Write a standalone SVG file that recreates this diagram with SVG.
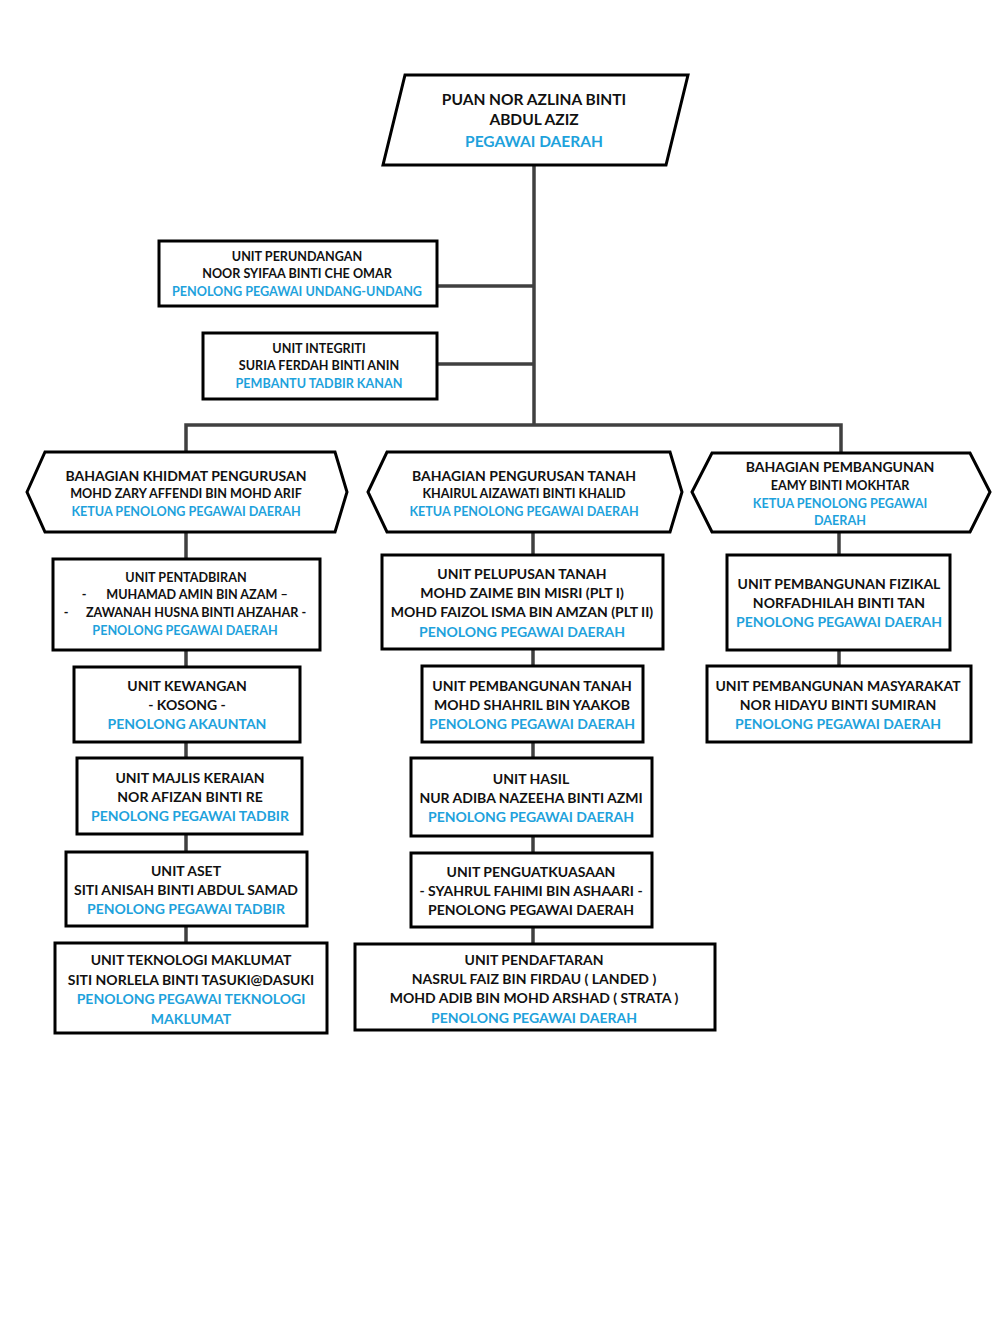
<svg xmlns="http://www.w3.org/2000/svg" width="1008" height="1344" viewBox="0 0 1008 1344">
<style>
.box{fill:#fff;stroke:#000;stroke-width:3}
.c{fill:none;stroke:#404040;stroke-width:3.5}
text{font-family:Lato,"Open Sans","Liberation Sans",sans-serif;font-weight:bold;text-anchor:middle;dominant-baseline:central;fill:#111}
.b{fill:#1ea2dc}
.s{font-size:12.6px}
.m{font-size:14px}
.l{font-size:15.5px}
</style>
<rect width="1008" height="1344" fill="#fff"/>
<g id="connectors">
<path class="c" d="M534,165V425"/>
<path class="c" d="M437,286H534"/>
<path class="c" d="M437,364H534"/>
<path class="c" d="M186,452V425H841V452"/>
<path class="c" d="M186,532V943"/>
<path class="c" d="M533,532V944"/>
<path class="c" d="M839,532V666"/>
</g>
<g id="head">
<polygon class="box" points="405,75 688,75 666,165 383,165"/>
<text class="l" x="534" y="99">PUAN NOR AZLINA BINTI</text>
<text class="l" x="534" y="119">ABDUL AZIZ</text>
<text class="l b" x="534" y="141">PEGAWAI DAERAH</text>
</g>
<g id="perundangan">
<rect class="box" x="159" y="241" width="278" height="65"/>
<text class="s" x="297" y="256">UNIT PERUNDANGAN</text>
<text class="s" x="297" y="273">NOOR SYIFAA BINTI CHE OMAR</text>
<text class="s b" x="297" y="291">PENOLONG PEGAWAI UNDANG-UNDANG</text>
</g>
<g id="integriti">
<rect class="box" x="203" y="333" width="234" height="66"/>
<text class="s" x="319" y="348">UNIT INTEGRITI</text>
<text class="s" x="319" y="365">SURIA FERDAH BINTI ANIN</text>
<text class="s b" x="319" y="383">PEMBANTU TADBIR KANAN</text>
</g>
<g id="bkp">
<polygon class="box" points="27,492 45,452 335,452 347,492 335,532 45,532"/>
<text class="m" x="186" y="475">BAHAGIAN KHIDMAT PENGURUSAN</text>
<text class="s" x="186" y="493">MOHD ZARY AFFENDI BIN MOHD ARIF</text>
<text class="s b" x="186" y="511">KETUA PENOLONG PEGAWAI DAERAH</text>
</g>
<g id="bpt">
<polygon class="box" points="368,492 387,452 670,452 682,492 670,532 387,532"/>
<text class="m" x="524" y="475">BAHAGIAN PENGURUSAN TANAH</text>
<text class="s" x="524" y="493">KHAIRUL AIZAWATI BINTI  KHALID</text>
<text class="s b" x="524" y="511">KETUA PENOLONG PEGAWAI DAERAH</text>
</g>
<g id="bp">
<polygon class="box" points="692,492 712,453 970,453 990,492 970,532 712,532"/>
<text class="m" x="840" y="466">BAHAGIAN PEMBANGUNAN</text>
<text class="s" x="840" y="485">EAMY BINTI MOKHTAR</text>
<text class="s b" x="840" y="503">KETUA PENOLONG PEGAWAI</text>
<text class="s b" x="840" y="520">DAERAH</text>
</g>
<g id="pentadbiran">
<rect class="box" x="53" y="559" width="267" height="91"/>
<text class="s" x="186" y="577">UNIT PENTADBIRAN</text>
<text class="s" x="84" y="594">-</text>
<text class="s" x="197" y="594">MUHAMAD AMIN BIN AZAM –</text>
<text class="s" x="66" y="612">-</text>
<text class="s" x="196" y="612">ZAWANAH HUSNA BINTI AHZAHAR -</text>
<text class="s b" x="185" y="630">PENOLONG PEGAWAI DAERAH</text>
</g>
<g id="kewangan">
<rect class="box" x="74" y="667" width="226" height="75"/>
<text class="m" x="187" y="685">UNIT KEWANGAN</text>
<text class="m" x="187" y="704">- KOSONG -</text>
<text class="m b" x="187" y="723">PENOLONG AKAUNTAN</text>
</g>
<g id="majlis">
<rect class="box" x="77" y="758" width="225" height="76"/>
<text class="m" x="190" y="777">UNIT MAJLIS KERAIAN</text>
<text class="m" x="190" y="796">NOR AFIZAN BINTI RE</text>
<text class="m b" x="190" y="815">PENOLONG PEGAWAI TADBIR</text>
</g>
<g id="aset">
<rect class="box" x="66" y="852" width="241" height="74"/>
<text class="m" x="186" y="870">UNIT ASET</text>
<text class="m" x="186" y="889">SITI ANISAH BINTI ABDUL SAMAD</text>
<text class="m b" x="186" y="908">PENOLONG PEGAWAI TADBIR</text>
</g>
<g id="teknologi">
<rect class="box" x="55" y="943" width="272" height="90"/>
<text class="m" x="191" y="959">UNIT TEKNOLOGI MAKLUMAT</text>
<text class="m" x="191" y="979">SITI NORLELA BINTI TASUKI@DASUKI</text>
<text class="m b" x="191" y="998">PENOLONG PEGAWAI TEKNOLOGI</text>
<text class="m b" x="191" y="1018">MAKLUMAT</text>
</g>
<g id="pelupusan">
<rect class="box" x="382" y="555" width="281" height="94"/>
<text class="m" x="522" y="573">UNIT PELUPUSAN TANAH</text>
<text class="m" x="522" y="592">MOHD ZAIME BIN MISRI (PLT I)</text>
<text class="m" x="522" y="611">MOHD FAIZOL ISMA BIN AMZAN (PLT II)</text>
<text class="m b" x="522" y="631">PENOLONG PEGAWAI DAERAH</text>
</g>
<g id="pembtanah">
<rect class="box" x="422" y="666" width="221" height="76"/>
<text class="m" x="532" y="685">UNIT PEMBANGUNAN TANAH</text>
<text class="m" x="532" y="704">MOHD SHAHRIL BIN YAAKOB</text>
<text class="m b" x="532" y="723">PENOLONG PEGAWAI DAERAH</text>
</g>
<g id="hasil">
<rect class="box" x="411" y="758" width="241" height="78"/>
<text class="m" x="531" y="778">UNIT HASIL</text>
<text class="m" x="531" y="797">NUR ADIBA NAZEEHA BINTI AZMI</text>
<text class="m b" x="531" y="816">PENOLONG PEGAWAI DAERAH</text>
</g>
<g id="penguatkuasaan">
<rect class="box" x="411" y="853" width="241" height="74"/>
<text class="m" x="531" y="871">UNIT PENGUATKUASAAN</text>
<text class="m" x="531" y="890">- SYAHRUL FAHIMI  BIN ASHAARI -</text>
<text class="m" x="531" y="909">PENOLONG PEGAWAI DAERAH</text>
</g>
<g id="pendaftaran">
<rect class="box" x="355" y="944" width="360" height="86"/>
<text class="m" x="534" y="959">UNIT PENDAFTARAN</text>
<text class="m" x="534" y="978">NASRUL FAIZ BIN FIRDAU ( LANDED )</text>
<text class="m" x="534" y="997">MOHD ADIB BIN MOHD ARSHAD ( STRATA )</text>
<text class="m b" x="534" y="1017">PENOLONG PEGAWAI DAERAH</text>
</g>
<g id="fizikal">
<rect class="box" x="727" y="555" width="223" height="95"/>
<text class="m" x="839" y="583">UNIT PEMBANGUNAN FIZIKAL</text>
<text class="m" x="839" y="602">NORFADHILAH BINTI TAN</text>
<text class="m b" x="839" y="621">PENOLONG PEGAWAI DAERAH</text>
</g>
<g id="masyarakat">
<rect class="box" x="707" y="666" width="264" height="76"/>
<text class="m" x="838" y="685">UNIT PEMBANGUNAN MASYARAKAT</text>
<text class="m" x="838" y="704">NOR HIDAYU BINTI SUMIRAN</text>
<text class="m b" x="838" y="723">PENOLONG PEGAWAI DAERAH</text>
</g>
</svg>
